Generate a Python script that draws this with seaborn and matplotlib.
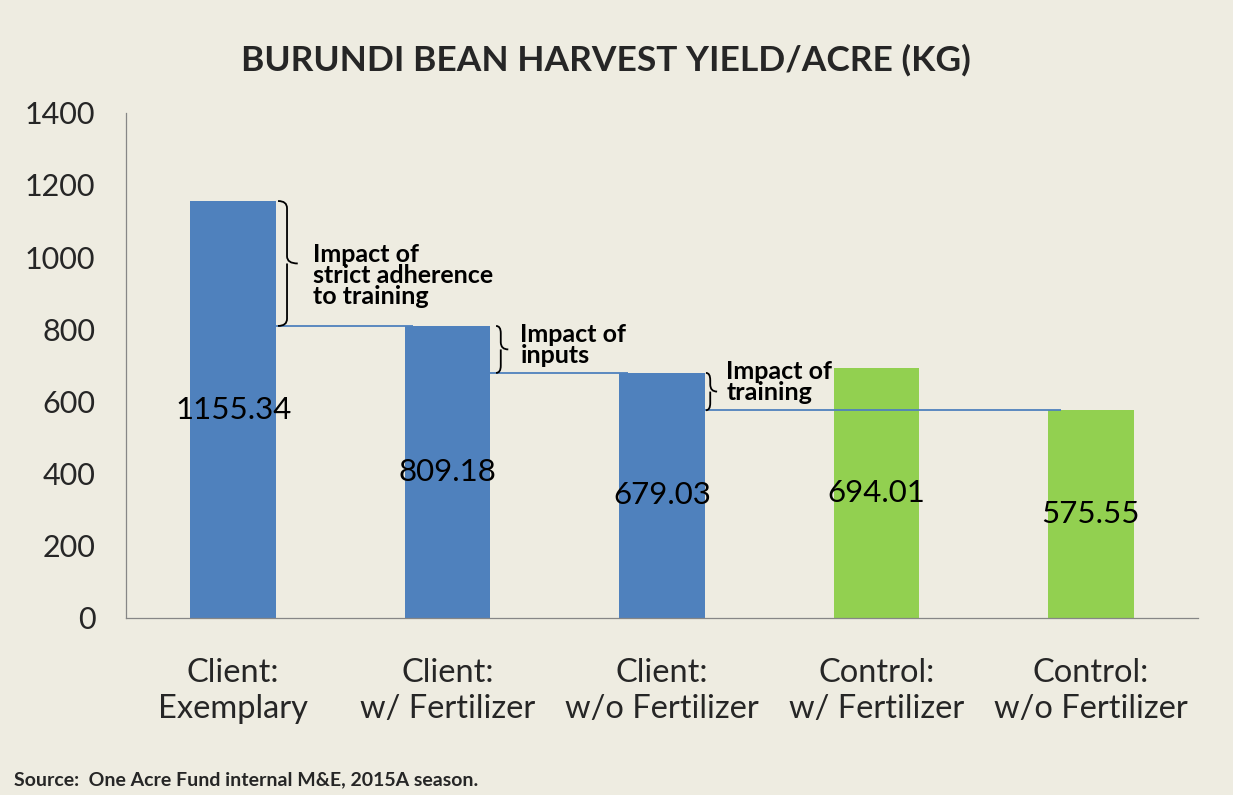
import matplotlib
matplotlib.use('Agg')
import matplotlib.pyplot as plt
import seaborn as sb
import pandas as pd
from matplotlib.patches import Rectangle, PathPatch
from matplotlib.path import Path

# chart data
categories = ['Client:\nExemplary', 'Client:\nw/ Fertilizer', 'Client:\nw/o Fertilizer',
              'Control:\nw/ Fertilizer', 'Control:\nw/o Fertilizer']
yields = [1155.34, 809.18, 679.03, 694.01, 575.55]
groups = ['Client', 'Client', 'Client', 'Control', 'Control']
value_labels = ['1155.34', '809.18', '679.03', '694.01', '575.55']
impact_labels = ['Impact of\nstrict adherence\nto training', 'Impact of\ninputs', 'Impact of\ntraining']
impact_pairs = [(0, 1), (1, 2), (2, 4)]   # brace spans yields[a] -> yields[b]
title = 'BURUNDI BEAN HARVEST YIELD/ACRE (KG)'
source = 'Source:  One Acre Fund internal M&E, 2015A season.'
yticks = [0, 200, 400, 600, 800, 1000, 1200, 1400]

BG = '#EEECE1'
BLUE = '#4F81BD'
GREEN = '#92D050'

sb.set_style('white')
plt.rcParams['font.family'] = ['Lato', 'DejaVu Sans']

df = pd.DataFrame({'cat': categories, 'yield': yields, 'group': groups})

fig = plt.figure(figsize=(12.33, 8.05), dpi=100, facecolor='white')
fig.patches.append(Rectangle((0, 10 / 805), 1, 1, transform=fig.transFigure,
                             facecolor=BG, edgecolor='none', zorder=-10))
ax = fig.add_axes([0.1022, 0.2323, 0.8694, 0.6277])
ax.set_facecolor(BG)

sb.barplot(data=df, x='cat', y='yield', hue='group', palette={'Client': BLUE, 'Control': GREEN},
           width=0.4, dodge=False, legend=False, ax=ax, saturation=1, linewidth=0, edgecolor='none')

# value labels in the middle of each bar
for i, (v, lab) in enumerate(zip(yields, value_labels)):
    ax.text(i, v / 2, lab, ha='center', va='center', fontsize=22.5, color='black')

# connector lines between bars
connect_x = [(0.2, 0.84), (1.18, 1.84), (2.09, 3.86)]
for (a, b), (x0, x1) in zip(impact_pairs, connect_x):
    ax.plot([x0, x1], [yields[b], yields[b]], color=BLUE, lw=1.3, zorder=3, solid_capstyle='butt')


def brace(ax, x, top, bottom, w, tip, r=20):
    mid = (top + bottom) / 2
    verts = [(x - w, top), (x, top), (x, top - r),
             (x, mid + r),
             (x, mid), (x + tip, mid),
             (x, mid), (x, mid - r),
             (x, bottom + r),
             (x, bottom), (x - w, bottom)]
    codes = [Path.MOVETO, Path.CURVE3, Path.CURVE3,
             Path.LINETO,
             Path.CURVE3, Path.CURVE3,
             Path.MOVETO, Path.CURVE3,
             Path.LINETO,
             Path.CURVE3, Path.CURVE3]
    ax.add_patch(PathPatch(Path(verts, codes), fill=False, lw=1.3, edgecolor='black',
                           clip_on=False, zorder=4))


brace_x = [0.251, 1.248, 2.225]
brace_w = [0.042, 0.022, 0.02]
brace_tip = [0.05, 0.035, 0.032]
text_x = [0.373, 1.339, 2.30]
text_y = [950, 756, 654]
for k, (a, b) in enumerate(impact_pairs):
    brace(ax, brace_x[k], yields[a], yields[b], brace_w[k], brace_tip[k])
    ax.text(text_x[k], text_y[k], impact_labels[k], ha='left', va='center', fontsize=18,
            fontweight='bold', linespacing=0.9, color='black')

ax.set_xlim(-0.5, 4.5)
ax.set_ylim(0, 1400)
ax.set_yticks(yticks)
ax.set_yticklabels([str(t) for t in yticks], fontsize=22)
ax.set_xticks(range(len(categories)))
ax.set_xticklabels(categories, fontsize=23.5, linespacing=1.25)
ax.set_xticks([-0.5, 0.5, 1.5, 2.5, 3.5], minor=True)
ax.tick_params(axis='x', which='major', length=0, pad=29)
ax.tick_params(axis='x', which='minor', length=8, width=0.8, color='#868686', direction='out')
ax.tick_params(axis='y', length=8, width=0.8, color='#868686', direction='out', pad=14)
ax.set_xlabel('')
ax.set_ylabel('')

for s in ['top', 'right']:
    ax.spines[s].set_visible(False)
for s in ['left', 'bottom']:
    ax.spines[s].set_color('#868686')
    ax.spines[s].set_linewidth(0.9)

fig.text(0.491, 0.925, title, ha='center', va='center', fontsize=25.5, fontweight='bold')
fig.text(14 / 1233, 1 - 780 / 805, source, ha='left', va='center', fontsize=14, fontweight='bold')

plt.savefig('out.png', dpi=100, facecolor=fig.get_facecolor())
